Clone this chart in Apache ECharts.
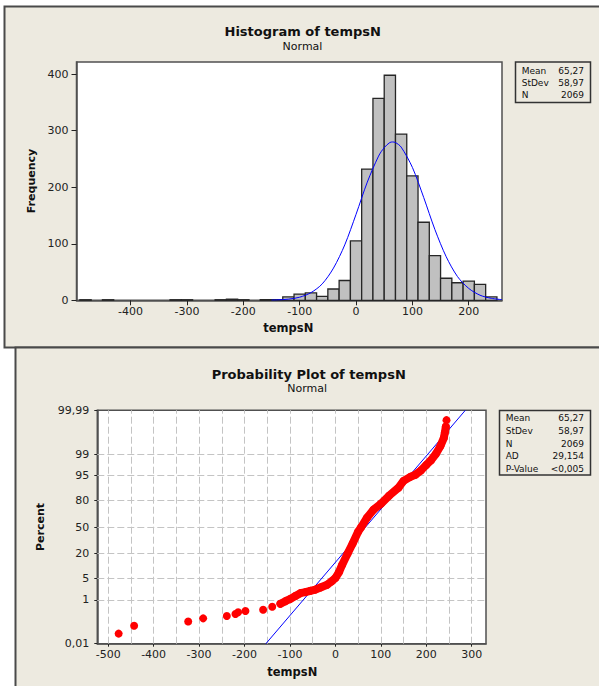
<!DOCTYPE html>
<html><head><meta charset="utf-8">
<script src="https://cdn.jsdelivr.net/npm/echarts@6/dist/echarts.min.js"></script>
<style>html,body{margin:0;padding:0;background:#fff}#c{width:599px;height:686px}</style>
</head><body><div id="c"></div>
<script>
// ---------- Histogram data ----------
const binCenters = [-480,-460,-440,-420,-400,-380,-360,-340,-320,-300,-280,-260,-240,-220,-200,-180,-160,-140,-120,-100,-80,-60,-40,-20,0,20,40,60,80,100,120,140,160,180,200,220,240];
const binCounts  = [1,0,1,0,0,0,0,0,1,1,0,0,1,2,1,0,1,1,6,11,13,7,20,35,105,232,357,398,294,220,138,79,39,31,34,28,6];
const curveX = [-150,-140,-120,-100,-80,-60,-40,-20,0,20,40,50,60,65,70,80,100,120,140,160,180,200,220,240,259];
const curveY = [0.4,0.7,2,5.5,13.5,29,57,98,152,209,255,270,279,280,279,271,235,182,125,77,42,21,9,3.5,1.2];
const histXTicks = [-400,-300,-200,-100,0,100,200];
const histYTicks = [0,100,200,300,400];

// ---------- Probability plot data ----------
const outlierX   = [-477,-443,-324,-291,-239,-220,-214,-198,-159,-139,244.5];
const outlierPct = [0.034,0.082,0.13,0.18,0.23,0.28,0.33,0.37,0.42,0.55,99.967];
const bandX   = [-121,-110,-99,-88,-77,-66,-55,-44,-33,-18,-8,0,8,15,27,38,50,57,70,84,100,118,139,150,165,176,188,200,210,221,231,238.6,241,243];
const bandPct = [0.72,0.9,1.1,1.4,1.75,1.9,2.1,2.3,2.7,3.3,4.2,5.2,7.5,11.5,20,30,44,50,62,71,77,84,89.5,92.9,94.5,95.2,96.4,97.6,98.3,99,99.5,99.77,99.87,99.93];
const fitX   = [-153,286];
const fitPct = [0.01,99.99];
const probXTicks = [-500,-400,-300,-200,-100,0,100,200,300];
const probXGrid  = [-500,-450,-400,-350,-300,-250,-200,-150,-100,-50,0,50,100,150,200,250,300];
const probYTickPct    = [0.01,1,5,20,50,80,95,99,99.99];
const probYTickLabels = ['0,01','1','5','20','50','80','95','99','99,99'];

const stats1Labels = ['Mean','StDev','N'];
const stats1Values = ['65,27','58,97','2069'];
const stats2Labels = ['Mean','StDev','N','AD','P-Value'];
const stats2Values = ['65,27','58,97','2069','29,154','<0,005'];

// normal probability scale (inverse normal CDF)
function probit(p){
  const a=[-3.969683028665376e+01,2.209460984245205e+02,-2.759285104469687e+02,1.383577518672690e+02,-3.066479806614716e+01,2.506628277459239e+00];
  const b=[-5.447609879822406e+01,1.615858368580409e+02,-1.556989798598866e+02,6.680131188771972e+01,-1.328068155288572e+01];
  const c=[-7.784894002430293e-03,-3.223964580411365e-01,-2.400758277161838e+00,-2.549732539343734e+00,4.374664141464968e+00,2.938163982698783e+00];
  const d=[7.784695709041462e-03,3.224671290700398e-01,2.445134137142996e+00,3.754408661907416e+00];
  const pl=0.02425, ph=1-pl; let q,r;
  if(p<pl){q=Math.sqrt(-2*Math.log(p));return (((((c[0]*q+c[1])*q+c[2])*q+c[3])*q+c[4])*q+c[5])/((((d[0]*q+d[1])*q+d[2])*q+d[3])*q+1);}
  if(p<=ph){q=p-0.5;r=q*q;return (((((a[0]*r+a[1])*r+a[2])*r+a[3])*r+a[4])*r+a[5])*q/(((((b[0]*r+b[1])*r+b[2])*r+b[3])*r+b[4])*r+1);}
  q=Math.sqrt(-2*Math.log(1-p));return -(((((c[0]*q+c[1])*q+c[2])*q+c[3])*q+c[4])*q+c[5])/((((d[0]*q+d[1])*q+d[2])*q+d[3])*q+1);
}
const pz = pct => probit(pct/100);
const yTickZ = probYTickPct.map(pz);

const BG = '#EDEAE0';
const FRAME = '#505050';
const FONT = '"DejaVu Sans", Verdana, sans-serif';

function txt(text, x, y, size, bold, align, extra){
  return Object.assign({type:'text', x:x, y:y, z:10, silent:true,
    style:{text:text, font:(bold?'bold ':'')+size+'px '+FONT, fill:'#111', align:align||'center', verticalAlign:'middle'}}, extra||{});
}
function statsBox(x, y, w, h, labels, values, rowY0, rowStep, lx, rx){
  const els = [{type:'rect', z:5, silent:true, shape:{x:x, y:y, width:w, height:h}, style:{fill:BG, stroke:'#333', lineWidth:1.5}}];
  labels.forEach((l,i)=>{
    els.push(txt(l, lx, rowY0 + i*rowStep, 9, false, 'left'));
    els.push(txt(values[i], rx, rowY0 + i*rowStep, 9, false, 'right'));
  });
  return els;
}

const axisLabelStyle = {color:'#222', fontSize:11, fontFamily:'DejaVu Sans'};
const axisLineStyle = {show:true, onZero:false, lineStyle:{color:FRAME, width:1.5}};

const option = {
  animation:false,
  grid:[
    {left:76.5, top:62, width:425.5, height:238.3, show:true, backgroundColor:'#fff', borderColor:FRAME, borderWidth:1.5},
    {left:97.3, top:410.3, width:388.7, height:233.4, show:true, backgroundColor:'#fff', borderColor:FRAME, borderWidth:1.5}
  ],
  xAxis:[
    {gridIndex:0, type:'value', min:-496, max:259,
     axisLine:axisLineStyle,
     axisTick:{show:true, length:5, customValues:histXTicks, lineStyle:{color:'#222'}},
     axisLabel:Object.assign({customValues:histXTicks, margin:6}, axisLabelStyle),
     splitLine:{show:false}},
    {gridIndex:1, type:'value', min:-524, max:331.5,
     axisLine:axisLineStyle,
     axisTick:{show:true, length:3, customValues:probXTicks, lineStyle:{color:'#222'}},
     axisLabel:Object.assign({customValues:probXTicks, margin:5}, axisLabelStyle),
     splitLine:{show:false}}
  ],
  yAxis:[
    {gridIndex:0, type:'value', min:0, max:421.4,
     axisLine:axisLineStyle,
     axisTick:{show:true, length:5, customValues:histYTicks, lineStyle:{color:'#222'}},
     axisLabel:Object.assign({customValues:histYTicks, margin:8}, axisLabelStyle),
     splitLine:{show:false}},
    {gridIndex:1, type:'value', min:pz(0.01), max:pz(99.99),
     axisLine:axisLineStyle,
     axisTick:{show:true, length:3, customValues:yTickZ, lineStyle:{color:'#222'}},
     axisLabel:Object.assign({customValues:yTickZ, margin:8,
       formatter:function(v){
         for(let i=0;i<yTickZ.length;i++){ if(Math.abs(yTickZ[i]-v)<1e-6) return probYTickLabels[i]; }
         return '';
       }}, axisLabelStyle),
     splitLine:{show:false}}
  ],
  series:[
    {type:'custom', xAxisIndex:0, yAxisIndex:0,
     data: binCenters.map((c,i)=>[c, binCounts[i]]),
     encode:{x:0, y:1},
     renderItem:function(params, api){
       const c = api.value(0), n = api.value(1);
       if(!n) return null;
       const p0 = api.coord([c-10, n]);
       const p1 = api.coord([c+10, 0]);
       return {type:'rect', shape:{x:p0[0], y:p0[1], width:p1[0]-p0[0], height:p1[1]-p0[1]},
               style:{fill:'#C0C0C0', stroke:'#262626', lineWidth:1.3}};
     }},
    {type:'line', xAxisIndex:0, yAxisIndex:0, smooth:0.3, showSymbol:false, symbol:'none',
     data: curveX.map((x,i)=>[x, curveY[i]]),
     lineStyle:{color:'#0000FF', width:1}, z:3},
    {type:'line', xAxisIndex:1, yAxisIndex:1, symbol:'none',
     data: fitX.map((x,i)=>[x, pz(fitPct[i])]),
     lineStyle:{color:'#0000FF', width:1},
     markLine:{silent:true, z:1, symbol:['none','none'], label:{show:false},
       lineStyle:{color:'#C4C4C4', width:1, type:[7,3]},
       emphasis:{disabled:true},
       data:[].concat(
         probXGrid.map(v=>({xAxis:v})),
         probYTickPct.slice(1,-1).map(p=>({yAxis:pz(p)}))
       )}},
    {type:'line', xAxisIndex:1, yAxisIndex:1, symbol:'circle', symbolSize:8, showSymbol:true,
     data: bandX.map((x,i)=>[x, pz(bandPct[i])]),
     itemStyle:{color:'#FF0000'},
     lineStyle:{color:'#FF0000', width:8, cap:'round', join:'round'}, z:4},
    {type:'scatter', xAxisIndex:1, yAxisIndex:1, symbolSize:8,
     data: outlierX.map((x,i)=>[x, pz(outlierPct[i])]),
     itemStyle:{color:'#FF0000', opacity:1}, z:4}
  ],
  graphic:{elements:[].concat(
    [{type:'rect', z:-10, silent:true, shape:{x:4.5, y:6.5, width:640, height:341}, style:{fill:BG, stroke:'#4a4a4a', lineWidth:2}},
     {type:'rect', z:-9, silent:true, shape:{x:15.5, y:347.5, width:640, height:400}, style:{fill:BG, stroke:'#4a4a4a', lineWidth:2}},
     txt('Histogram of tempsN', 302.7, 31.7, 13, true),
     txt('Normal', 302.5, 46.7, 11, false),
     txt('tempsN', 288.3, 327.5, 11.5, true),
     txt('Frequency', 31, 181, 11, true, 'center', {rotation:Math.PI/2}),
     txt('Probability Plot of tempsN', 308.7, 374, 13, true),
     txt('Normal', 307.2, 388.3, 11, false),
     txt('tempsN', 292.3, 671.5, 11.5, true),
     txt('Percent', 40.7, 527, 11, true, 'center', {rotation:Math.PI/2})
    ],
    statsBox(515.5, 62, 75, 40.5, stats1Labels, stats1Values, 70.7, 12, 521.7, 584),
    statsBox(499.5, 410.5, 91, 64.5, stats2Labels, stats2Values, 418.3, 12.7, 505.7, 584)
  )}
};

const chart = echarts.init(document.getElementById('c'), null, {renderer:'svg', width:599, height:686});
chart.setOption(option);
</script>
</body></html>
